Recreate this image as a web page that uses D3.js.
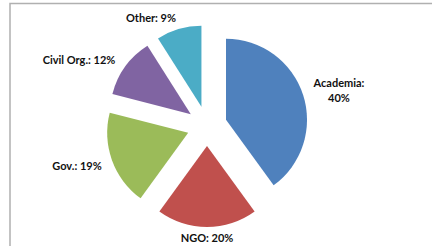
<!DOCTYPE html>
<html><head><meta charset="utf-8">
<script src="https://cdn.jsdelivr.net/npm/d3@7"></script>
<style>html,body{margin:0;padding:0;background:#fff;overflow:hidden}</style>
</head><body>
<script>
const categories = ["Academia", "NGO", "Gov.", "Civil Org.", "Other"];
const values = [40, 20, 19, 12, 9];
const colors = ["#4F81BD", "#C0504D", "#9BBB59", "#8064A2", "#4BACC6"];

const W = 432, H = 246;
const svg = d3.select("body").append("svg").attr("width", W).attr("height", H);

// chart frame (cropped by window)
svg.append("rect").attr("x", 10).attr("y", 3.5).attr("width", 440).attr("height", 260)
  .attr("fill", "none").attr("stroke", "#b0b0b0").attr("stroke-width", 1.5);

const cx = 207, cy = 126, r = 81, explode = 20;
const pie = d3.pie().sort(null).value(d => d)(values);
const arc = d3.arc().innerRadius(0).outerRadius(r);
const g = svg.append("g").attr("transform", `translate(${cx},${cy})`);

g.selectAll("path").data(pie).join("path")
  .attr("d", arc)
  .attr("fill", (d, i) => colors[i])
  .attr("transform", d => {
    const a = (d.startAngle + d.endAngle) / 2;
    return `translate(${explode * Math.sin(a)},${-explode * Math.cos(a)})`;
  });

// labels (positions relative to slice mid-angle)
const labelPos = [
  {dx: 132, dy: -43, lines: ["Academia:", "40%"]},
  {dx: 0, dy: 112, lines: ["NGO: 20%"]},
  {dx: -130, dy: 40, lines: ["Gov.: 19%"]},
  {dx: -128, dy: -66, lines: ["Civil Org.: 12%"]},
  {dx: -56, dy: -108, lines: ["Other: 9%"]}
];
const labels = categories.map((c, i) => ({cat: c, val: values[i], pos: labelPos[i]}));
labels.forEach(l => {
  const t = g.append("text")
    .attr("text-anchor", "middle")
    .attr("font-family", "Lato, 'Open Sans', sans-serif")
    .attr("font-weight", "bold")
    .attr("font-size", 11)
    .attr("fill", "#111");
  const lines = l.pos.lines.length > 1 ? [l.cat + ":", l.val + "%"] : [l.cat + ": " + l.val + "%"];
  lines.forEach((s, k) => {
    t.append("tspan").attr("x", l.pos.dx).attr("y", l.pos.dy + k * 15 + 4).text(s);
  });
});
</script>
</body></html>
